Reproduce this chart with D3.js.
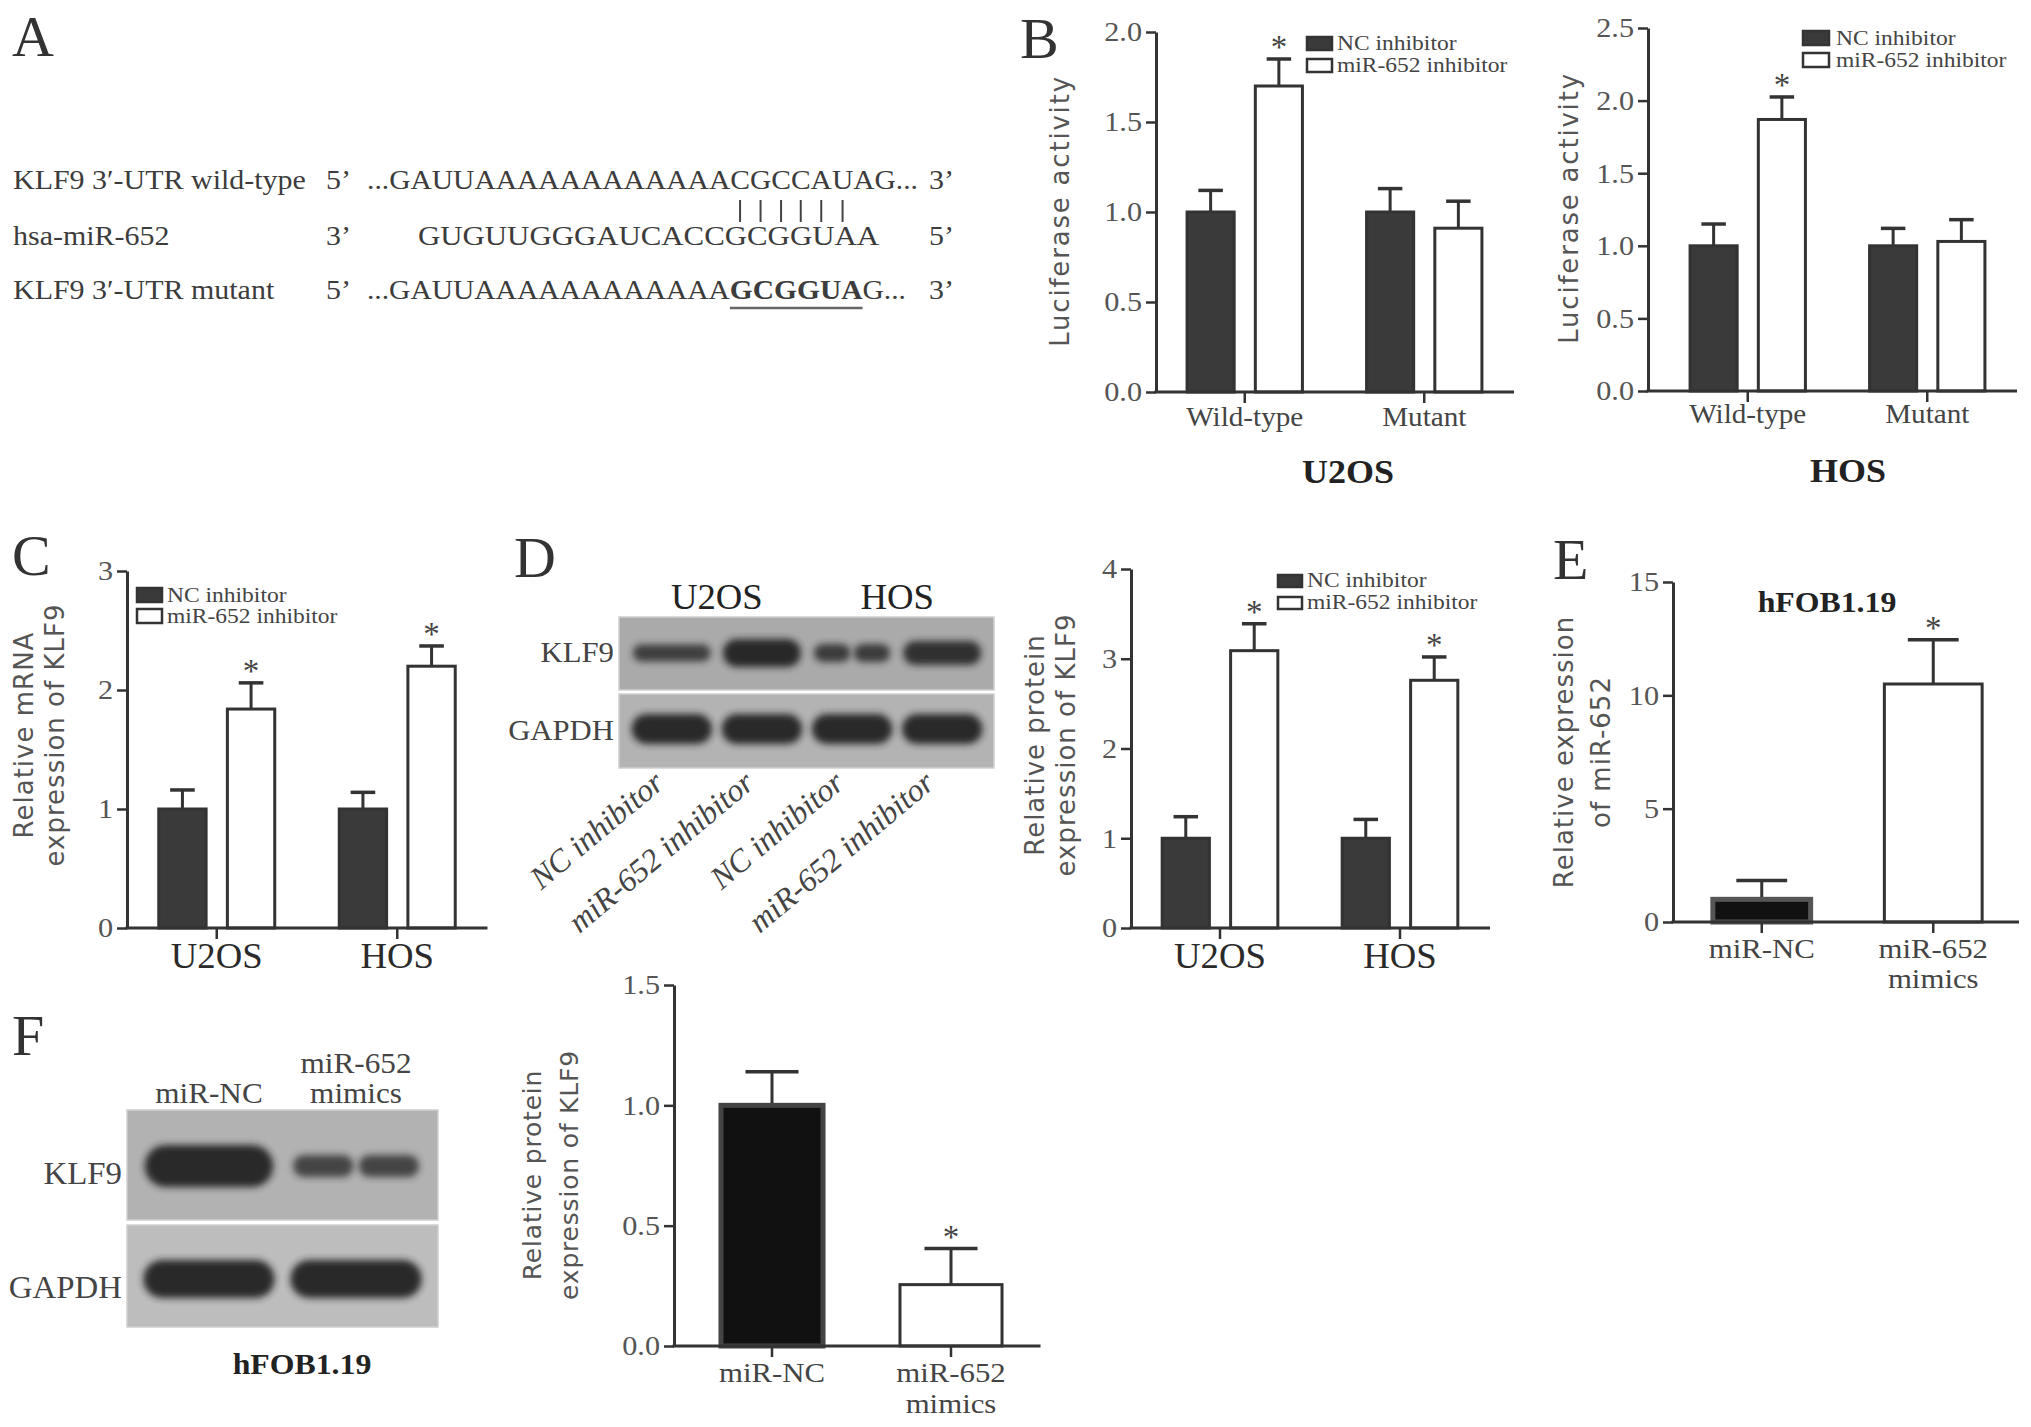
<!DOCTYPE html>
<html><head><meta charset="utf-8">
<script src="https://cdn.jsdelivr.net/npm/d3@7"></script>
<style>html,body{margin:0;padding:0;background:#fff;} svg{display:block;}</style>
</head><body>
<svg id="fig" width="2031" height="1427"></svg>
<script>
// ---------------- DATA ----------------
const seriesNames = ["NC inhibitor", "miR-652 inhibitor"];

// Panel A
const seqRowLabels = ["KLF9 3\u2032-UTR wild-type", "hsa-miR-652", "KLF9 3\u2032-UTR mutant"];
const seqLeftEnds = ["5\u2019", "3\u2019", "5\u2019"];
const seqRightEnds = ["3\u2019", "5\u2019", "3\u2019"];
const seqWildType = "...GAUUAAAAAAAAAAAACGCCAUAG...";
const seqMiR = "GUGUUGGGAUCACCGCGGUAA";
const seqMutantParts = ["...GAUUAAAAAAAAAAAA", "GCGGUA", "G..."];
const pairedIndex = [19, 20, 21, 22, 23, 24];

// Panel B
const lucGroups = ["Wild-type", "Mutant"];
const lucTicksU2OS = [0, 0.5, 1.0, 1.5, 2.0];
const lucU2OS_NC = [1.00, 1.00];
const lucU2OS_NC_err = [0.12, 0.13];
const lucU2OS_miR = [1.70, 0.91];
const lucU2OS_miR_err = [0.15, 0.15];
const lucU2OS_miR_star = [true, false];
const lucTicksHOS = [0, 0.5, 1.0, 1.5, 2.0, 2.5];
const lucHOS_NC = [1.00, 1.00];
const lucHOS_NC_err = [0.15, 0.12];
const lucHOS_miR = [1.87, 1.03];
const lucHOS_miR_err = [0.155, 0.15];
const lucHOS_miR_star = [true, false];

// Panel C
const cellGroups = ["U2OS", "HOS"];
const mrnaTicks = [0, 1, 2, 3];
const mrna_NC = [1.00, 1.00];
const mrna_NC_err = [0.16, 0.14];
const mrna_miR = [1.84, 2.20];
const mrna_miR_err = [0.22, 0.17];
const mrna_miR_star = [true, true];

// Panel D
const blotD_lanes = ["NC inhibitor", "miR-652 inhibitor", "NC inhibitor ", "miR-652 inhibitor "];
const blotD_cells = ["U2OS", "HOS"];
const blotD_KLF9 = [0.6, 1.0, 0.65, 0.85];
const blotD_KLF9_blobs = [1, 1, 2, 1];
const blotD_GAPDH = [1.0, 1.0, 1.0, 1.0];
const protTicks = [0, 1, 2, 3, 4];
const prot_NC = [1.00, 1.00];
const prot_NC_err = [0.24, 0.21];
const prot_miR = [3.09, 2.76];
const prot_miR_err = [0.30, 0.26];
const prot_miR_star = [true, true];

// Panel E
const mimicGroups = ["miR-NC", "miR-652\nmimics"];
const exprTicks = [0, 5, 10, 15];
const expr_values = [1.0, 10.5];
const expr_err = [0.83, 1.95];
const expr_star = [false, true];

// Panel F
const blotF_lanes = ["miR-NC", "miR-652\nmimics"];
const blotF_KLF9 = [1.0, 0.52];
const blotF_KLF9_blobs = [1, 2];
const blotF_GAPDH = [1.0, 1.0];
const protFTicks = [0, 0.5, 1.0, 1.5];
const protF_values = [1.0, 0.255];
const protF_err = [0.14, 0.15];
const protF_star = [false, true];

// ---------------- DRAWING ----------------
const svg = d3.select('#fig');
const SERIF = "'Liberation Serif','Times New Roman',serif";
const SANS = "'DejaVu Sans',Verdana,sans-serif";
const DARK = "#3a3a3a", LINE = "#333";

const defs = svg.append('defs');
defs.append('filter').attr('id', 'blur').attr('x', '-20%').attr('y', '-60%').attr('width', '140%').attr('height', '220%')
  .append('feGaussianBlur').attr('stdDeviation', 3.5);

function T(g, x, y, str, o = {}) {
  const sx = o.sx ?? 1;
  const rot = o.rot ? ` rotate(${o.rot})` : '';
  const t = g.append('text')
    .attr('transform', `translate(${x},${y})${rot} scale(${sx},1)`)
    .attr('font-family', o.family || SERIF)
    .attr('font-size', o.size || 26)
    .attr('font-weight', o.weight || 'normal')
    .attr('font-style', o.style || 'normal')
    .attr('fill', o.fill || '#333')
    .attr('text-anchor', o.anchor || 'start')
    .text(str);
  if (o.ls) t.attr('letter-spacing', o.ls);
  if (o.dy) t.attr('dy', o.dy);
  return t;
}

function barChart(c) {
  const g = svg.append('g');
  const y = d3.scaleLinear().domain(c.domain).range(c.yRange);
  const x = d3.scaleBand().domain(c.groups).range(c.xRange);
  const names = c.series.map(s => s.name);
  const multi = names.length > 1;
  const xi = d3.scaleBand().domain(names).range([0, x.bandwidth()])
    .paddingInner(multi ? 0.31 : 0).paddingOuter(multi ? 0.47 : 0.377);
  const pick = (v, i) => Array.isArray(v) ? v[i] : v;

  c.series.forEach(s => {
    s.values.forEach((v, i) => {
      const cx = x(c.groups[i]) + xi(s.name) + xi.bandwidth() / 2;
      const top = y(v + s.errs[i]);
      const cw = xi.bandwidth() * 0.26;
      g.append('line').attr('x1', cx).attr('x2', cx).attr('y1', y(v)).attr('y2', top)
        .attr('stroke', LINE).attr('stroke-width', 3);
      g.append('line').attr('x1', cx - cw).attr('x2', cx + cw).attr('y1', top).attr('y2', top)
        .attr('stroke', LINE).attr('stroke-width', 3.5);
      if (s.stars && s.stars[i]) T(g, cx, top - 1, '*', { anchor: 'middle', size: 33, fill: '#444' });
    });
  });
  c.series.forEach(s => {
    g.append('g').selectAll('rect').data(s.values).join('rect')
      .attr('x', (d, i) => x(c.groups[i]) + xi(s.name))
      .attr('y', d => y(d))
      .attr('width', xi.bandwidth())
      .attr('height', d => y(0) - y(d))
      .attr('fill', (d, i) => pick(s.fill, i))
      .attr('stroke', (d, i) => pick(s.stroke, i))
      .attr('stroke-width', (d, i) => pick(s.sw, i));
  });

  const ya = d3.axisLeft(y).tickValues(c.ticks).tickFormat(c.fmt).tickSize(10).tickSizeOuter(0).tickPadding(4);
  const ag = g.append('g').attr('transform', `translate(${c.yAxisX},0)`).call(ya);
  ag.select('.domain').attr('stroke', LINE).attr('stroke-width', 3);
  ag.selectAll('.tick line').attr('stroke', LINE).attr('stroke-width', 2.5);
  ag.selectAll('.tick text').attr('font-family', SERIF).attr('font-size', 28).attr('fill', '#555')
    .each(function () {
      const t = d3.select(this); const xx = +t.attr('x');
      t.attr('x', 0).attr('transform', `translate(${xx},0) scale(1.08,1)`);
    });
  g.append('line').attr('x1', c.yAxisX - 1.5).attr('x2', c.xRange[1]).attr('y1', y(0)).attr('y2', y(0))
    .attr('stroke', LINE).attr('stroke-width', 3);
  c.groups.forEach(gr => {
    const cx = x(gr) + x.bandwidth() / 2;
    g.append('line').attr('x1', cx).attr('x2', cx).attr('y1', y(0)).attr('y2', y(0) + 11)
      .attr('stroke', LINE).attr('stroke-width', 2.5);
    gr.split('\n').forEach((ln, k) => T(g, cx, c.xlab.base + k * (c.xlab.lh || 30), ln,
      { anchor: 'middle', size: c.xlab.size, sx: c.xlab.sx, fill: c.xlab.fill || '#444' }));
  });
  c.ylab.lines.forEach((ln, k) => T(g, c.ylab.xs[k], c.ylab.cy, ln,
    { rot: -90, anchor: 'middle', family: SANS, size: c.ylab.size || 26, ls: c.ylab.ls ?? 1, fill: '#555', dy: '0.35em' }));
  if (c.legend) {
    const L = c.legend;
    c.series.forEach((s, k) => {
      g.append('rect').attr('x', L.x).attr('y', L.ys[k]).attr('width', L.w).attr('height', L.h)
        .attr('fill', pick(s.fill, 0)).attr('stroke', LINE).attr('stroke-width', 2.5);
      T(g, L.tx, L.ys[k] + L.h, s.name, { size: L.size || 21, sx: 1.12, fill: '#444' });
    });
  }
  return g;
}

// ---------- Panel letters ----------
[["A", 12, 56], ["B", 1020, 58], ["C", 12, 575], ["D", 514, 577], ["E", 1553, 579], ["F", 12, 1055]]
  .forEach(([l, x, y]) => T(svg, x, y, l, { size: 58, fill: '#333' }));

// ---------- Panel A ----------
(function () {
  const g = svg.append('g');
  const rowY = [189, 245, 299];
  const tc = '#3c3c3c';
  seqRowLabels.forEach((s, i) => T(g, 13, rowY[i], s, { size: 27, sx: 1.11, fill: tc }));
  seqLeftEnds.forEach((s, i) => T(g, 326, rowY[i], s, { size: 27, sx: 1.11, fill: tc }));
  seqRightEnds.forEach((s, i) => T(g, 929, rowY[i], s, { size: 27, sx: 1.11, fill: tc }));
  const r1 = g.append('text').attr('x', 367).attr('y', rowY[0]).attr('font-family', SERIF).attr('font-size', 27)
    .attr('fill', tc).attr('textLength', 551).attr('lengthAdjust', 'spacingAndGlyphs').text(seqWildType);
  g.append('text').attr('x', 418).attr('y', rowY[1]).attr('font-family', SERIF).attr('font-size', 27)
    .attr('fill', tc).attr('textLength', 461).attr('lengthAdjust', 'spacingAndGlyphs').text(seqMiR);
  const r3 = g.append('text').attr('x', 367).attr('y', rowY[2]).attr('font-family', SERIF).attr('font-size', 27)
    .attr('fill', tc).attr('textLength', 539).attr('lengthAdjust', 'spacingAndGlyphs');
  seqMutantParts.forEach((p, k) => r3.append('tspan').attr('font-weight', k === 1 ? 'bold' : 'normal').text(p));
  const n1 = r1.node();
  pairedIndex.forEach(i => {
    let cx;
    try { cx = (n1.getStartPositionOfChar(i).x + n1.getEndPositionOfChar(i).x) / 2; }
    catch (e) { cx = 740 + (i - 19) * 21.5; }
    g.append('line').attr('x1', cx).attr('x2', cx).attr('y1', 200).attr('y2', 222)
      .attr('stroke', '#444').attr('stroke-width', 2);
  });
  const n3 = r3.node();
  const s0 = seqMutantParts[0].length, s1 = s0 + seqMutantParts[1].length - 1;
  let ux0 = 725, ux1 = 861;
  try { ux0 = n3.getStartPositionOfChar(s0).x; ux1 = n3.getEndPositionOfChar(s1).x; } catch (e) {}
  g.append('line').attr('x1', ux0).attr('x2', ux1).attr('y1', 308).attr('y2', 308)
    .attr('stroke', '#666').attr('stroke-width', 2.5);
})();

// ---------- Panel B ----------
barChart({
  yAxisX: 1156, xRange: [1155, 1514], yRange: [392, 32], domain: [0, 2], ticks: lucTicksU2OS, fmt: d3.format('.1f'),
  groups: lucGroups,
  series: [
    { name: seriesNames[0], values: lucU2OS_NC, errs: lucU2OS_NC_err, fill: DARK, stroke: LINE, sw: 3 },
    { name: seriesNames[1], values: lucU2OS_miR, errs: lucU2OS_miR_err, stars: lucU2OS_miR_star, fill: '#fff', stroke: LINE, sw: 3 }],
  legend: { x: 1307, ys: [37, 59], w: 25, h: 13, tx: 1337 },
  ylab: { lines: ['Luciferase activity'], xs: [1060], cy: 211, size: 26, ls: 1.8 },
  xlab: { base: 426, size: 27, sx: 1.08 }
});
T(svg, 1348, 483, 'U2OS', { anchor: 'middle', size: 34, sx: 1.06, weight: 'bold', fill: '#222' });
barChart({
  yAxisX: 1648, xRange: [1658, 2017], yRange: [391, 28], domain: [0, 2.5], ticks: lucTicksHOS, fmt: d3.format('.1f'),
  groups: lucGroups,
  series: [
    { name: seriesNames[0], values: lucHOS_NC, errs: lucHOS_NC_err, fill: DARK, stroke: LINE, sw: 3 },
    { name: seriesNames[1], values: lucHOS_miR, errs: lucHOS_miR_err, stars: lucHOS_miR_star, fill: '#fff', stroke: LINE, sw: 3 }],
  legend: { x: 1803, ys: [31, 53], w: 26, h: 14, tx: 1836 },
  ylab: { lines: ['Luciferase activity'], xs: [1569], cy: 208, size: 26, ls: 1.8 },
  xlab: { base: 423, size: 27, sx: 1.08 }
});
T(svg, 1848, 482, 'HOS', { anchor: 'middle', size: 34, sx: 1.06, weight: 'bold', fill: '#222' });

// ---------- Panel C ----------
barChart({
  yAxisX: 127, xRange: [126.5, 487.5], yRange: [928, 571], domain: [0, 3], ticks: mrnaTicks, fmt: d3.format('d'),
  groups: cellGroups,
  series: [
    { name: seriesNames[0], values: mrna_NC, errs: mrna_NC_err, fill: DARK, stroke: LINE, sw: 3 },
    { name: seriesNames[1], values: mrna_miR, errs: mrna_miR_err, stars: mrna_miR_star, fill: '#fff', stroke: LINE, sw: 3 }],
  legend: { x: 137, ys: [588, 609], w: 25, h: 14, tx: 167 },
  ylab: { lines: ['Relative mRNA', 'expression of KLF9'], xs: [24, 55], cy: 735, size: 26, ls: 1 },
  xlab: { base: 968, size: 36, sx: 1.02, fill: '#2a2a2a' }
});

// ---------- Blot helper ----------
function blot(c) {
  const g = svg.append('g');
  const lanes = d3.scaleBand().domain(c.lanes).range(c.laneRange).padding(0.06);
  c.rows.forEach(r => {
    g.append('rect').attr('x', c.box[0]).attr('y', r.y0).attr('width', c.box[1] - c.box[0]).attr('height', r.y1 - r.y0)
      .attr('fill', r.bg).attr('stroke', '#cfcfcf').attr('stroke-width', 1.5);
    r.values.forEach((v, i) => {
      const w = lanes.bandwidth() * r.wf, h = r.maxH * v;
      const cx = lanes(c.lanes[i]) + lanes.bandwidth() / 2;
      const nb = r.blobs ? r.blobs[i] : 1;
      const parts = nb === 2 ? [[cx - w * 0.255, w * 0.47], [cx + w * 0.255, w * 0.47]] : [[cx, w]];
      parts.forEach(([px, pw]) => {
        g.append('rect').attr('x', px - pw / 2).attr('y', r.cy - h / 2).attr('width', pw).attr('height', h)
          .attr('rx', Math.min(h / 2, pw / 2)).attr('fill', '#232323').attr('opacity', 0.55 + 0.4 * v)
          .attr('filter', 'url(#blur)');
      });
    });
    T(g, c.box[0] - 5, r.labelY, r.label, { anchor: 'end', size: c.rowLabelSize || 29, sx: 1.06, fill: '#444' });
  });
  return { g, lanes };
}

// ---------- Panel D blot ----------
(function () {
  const b = blot({
    lanes: blotD_lanes, laneRange: [624, 990], box: [619, 994],
    rows: [
      { label: 'KLF9', values: blotD_KLF9, blobs: blotD_KLF9_blobs, y0: 617, y1: 690, cy: 653, maxH: 28, wf: 0.92, bg: '#aaaaaa', labelY: 662 },
      { label: 'GAPDH', values: blotD_GAPDH, y0: 694, y1: 768, cy: 729, maxH: 30, wf: 0.95, bg: '#b3b3b3', labelY: 740 }]
  });
  const L = b.lanes, bw = L.bandwidth();
  blotD_cells.forEach((cell, k) => {
    const cx = (L(blotD_lanes[2 * k]) + L(blotD_lanes[2 * k + 1]) + bw) / 2;
    T(b.g, cx, 609, cell, { anchor: 'middle', size: 36, sx: 1.02, fill: '#222' });
  });
  blotD_lanes.forEach(l => {
    const cx = L(l) + bw / 2;
    T(b.g, cx - 6, 786, l.trim(), { anchor: 'end', size: 32, style: 'italic', rot: -40, fill: '#444' });
  });
})();

// ---------- Panel D chart ----------
barChart({
  yAxisX: 1131, xRange: [1130, 1490], yRange: [928, 569], domain: [0, 4], ticks: protTicks, fmt: d3.format('d'),
  groups: cellGroups,
  series: [
    { name: seriesNames[0], values: prot_NC, errs: prot_NC_err, fill: DARK, stroke: LINE, sw: 3 },
    { name: seriesNames[1], values: prot_miR, errs: prot_miR_err, stars: prot_miR_star, fill: '#fff', stroke: LINE, sw: 3 }],
  legend: { x: 1278, ys: [575, 597], w: 24, h: 12, tx: 1307 },
  ylab: { lines: ['Relative protein', 'expression of KLF9'], xs: [1035, 1066], cy: 745, size: 26, ls: 1 },
  xlab: { base: 968, size: 36, sx: 1.02, fill: '#2a2a2a' }
});

// ---------- Panel E ----------
barChart({
  yAxisX: 1673, xRange: [1676, 2019], yRange: [922, 582], domain: [0, 15], ticks: exprTicks, fmt: d3.format('d'),
  groups: mimicGroups,
  series: [{ name: 'expr', values: expr_values, errs: expr_err, stars: expr_star,
    fill: ['#111', '#fff'], stroke: ['#555', LINE], sw: [5, 3] }],
  ylab: { lines: ['Relative expression', 'of  miR-652'], xs: [1564, 1601], cy: 752, size: 26, ls: 1 },
  xlab: { base: 958, lh: 30, size: 28, sx: 1.1 }
});
T(svg, 1827, 612, 'hFOB1.19', { anchor: 'middle', size: 30, sx: 1.06, weight: 'bold', fill: '#222' });

// ---------- Panel F blot ----------
(function () {
  const b = blot({
    lanes: blotF_lanes, laneRange: [131, 434], box: [127, 438], rowLabelSize: 31,
    rows: [
      { label: 'KLF9', values: blotF_KLF9, blobs: blotF_KLF9_blobs, y0: 1110, y1: 1220, cy: 1166, maxH: 42, wf: 0.93, bg: '#b2b2b2', labelY: 1184 },
      { label: 'GAPDH', values: blotF_GAPDH, y0: 1225, y1: 1327, cy: 1279, maxH: 38, wf: 0.95, bg: '#bdbdbd', labelY: 1298 }]
  });
  const L = b.lanes, bw = L.bandwidth();
  blotF_lanes.forEach(l => {
    const cx = L(l) + bw / 2;
    const lines = l.split('\n');
    lines.forEach((ln, k) => T(b.g, cx, 1103 - (lines.length - 1 - k) * 30, ln,
      { anchor: 'middle', size: 30, sx: 1.04, fill: '#444' }));
  });
  T(b.g, 302, 1374, 'hFOB1.19', { anchor: 'middle', size: 30, sx: 1.06, weight: 'bold', fill: '#222' });
})();

// ---------- Panel F chart ----------
barChart({
  yAxisX: 674, xRange: [682.5, 1040.5], yRange: [1346, 985], domain: [0, 1.5], ticks: protFTicks, fmt: d3.format('.1f'),
  groups: mimicGroups,
  series: [{ name: 'protF', values: protF_values, errs: protF_err, stars: protF_star,
    fill: ['#111', '#fff'], stroke: ['#444', LINE], sw: [5, 3] }],
  ylab: { lines: ['Relative protein', 'expression of KLF9'], xs: [532, 569], cy: 1175, size: 25, ls: 0.8 },
  xlab: { base: 1382, lh: 31, size: 28, sx: 1.1 }
});
</script>
</body></html>
